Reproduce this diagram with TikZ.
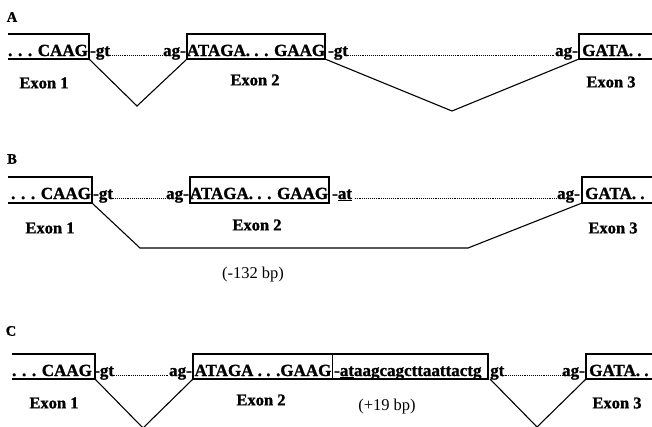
\documentclass[tikz,border=0pt]{standalone}
\usepackage{fontspec}
\setmainfont{Liberation Serif}[BoldFeatures={FakeBold=1.2}]
\begin{document}
\begin{tikzpicture}[x=1pt,y=-1pt,
  seq/.style={font=\fontsize{17}{17}\selectfont\bfseries, inner sep=0pt},
  exlab/.style={font=\fontsize{16.5}{16.5}\selectfont\bfseries, inner sep=0pt},
  plab/.style={font=\fontsize{14.5}{14.5}\selectfont\bfseries, inner sep=0pt},
  bp/.style={font=\fontsize{16.5}{16.5}\selectfont, inner sep=0pt},
  boxline/.style={line width=1.1pt},
  splice/.style={line width=1.1pt},
  dotline/.style={line width=1pt, dash pattern=on 0.9pt off 1pt}]
\useasboundingbox (0,0) rectangle (652,426);
\clip (0,0) rectangle (652,426);

% ---------------- Panel A ----------------
\node[plab] (lA) at (12,17) {A};
\coordinate (a1tl) at (8,34);  \coordinate (a1tr) at (89,34);
\coordinate (a1bl) at (8,59);  \coordinate (a1br) at (89,59);
\coordinate (a2tl) at (187,34); \coordinate (a2tr) at (325,34);
\coordinate (a2bl) at (187,59); \coordinate (a2br) at (325,59);
\coordinate (a3tl) at (579,34); \coordinate (a3tr) at (652,34);
\coordinate (a3bl) at (579,59); \coordinate (a3br) at (652,59);
\draw[boxline] (a1tl) -- (a1tr) -- (a1br) -- (a1bl);
\draw[boxline] (a2tl) rectangle (a2br);
\draw[boxline] (a3tr) -- (a3tl) -- (a3bl) -- (a3br);
\node[seq, anchor=base] (a1s) at (48,56) {. . . CAAG};
\node[seq, anchor=base west] (agt1) at (90,56) {-gt};
\node[seq, anchor=base east] (aag1) at (186,56) {ag-};
\node[seq, anchor=base] (a2s) at (256,56) {ATAGA. . . GAAG};
\node[seq, anchor=base west] (agt2) at (328,56) {-gt};
\node[seq, anchor=base east] (aag2) at (578,56) {ag-};
\node[seq, anchor=base west] (a3s) at (582,56) {GATA. .};
\draw[dotline] ([yshift=0.6pt]agt1.base east) -- ([yshift=0.6pt]aag1.base west);
\draw[dotline] ([yshift=0.6pt]agt2.base east) -- ([yshift=0.6pt]aag2.base west);
\coordinate (av1) at (137,106);
\coordinate (av2) at (452,111);
\draw[splice] (a1br) -- (av1) -- (a2bl);
\draw[splice] (a2br) -- (av2) -- (a3bl);
\node[exlab] (ae1) at (44,83) {Exon 1};
\node[exlab] (ae2) at (255,80) {Exon 2};
\node[exlab] (ae3) at (611,82) {Exon 3};

% ---------------- Panel B ----------------
\node[plab] (lB) at (12,159) {B};
\coordinate (b1tl) at (8,177);  \coordinate (b1tr) at (92,177);
\coordinate (b1bl) at (8,203);  \coordinate (b1br) at (92,203);
\coordinate (b2tl) at (190,177); \coordinate (b2br) at (329,203);
\coordinate (b3tl) at (582,177); \coordinate (b3tr) at (652,177);
\coordinate (b3bl) at (582,203); \coordinate (b3br) at (652,203);
\draw[boxline] (b1tl) -- (b1tr) -- (b1br) -- (b1bl);
\draw[boxline] (b2tl) rectangle (b2br);
\draw[boxline] (b3tr) -- (b3tl) -- (b3bl) -- (b3br);
\node[seq, anchor=base] (b1s) at (51,199) {. . . CAAG};
\node[seq, anchor=base west] (bgt1) at (93,199) {-gt};
\node[seq, anchor=base east] (bag1) at (189,199) {ag-};
\node[seq, anchor=base] (b2s) at (259,199) {ATAGA. . . GAAG};
\node[seq, anchor=base west] (bat) at (332,199) {-\underline{at}};
\node[seq, anchor=base east] (bag2) at (580,199) {ag-};
\node[seq, anchor=base west] (b3s) at (585,199) {GATA. .};
\draw[dotline] ([yshift=0.6pt]bgt1.base east) -- ([yshift=0.6pt]bag1.base west);
\draw[dotline] ([xshift=2.5pt,yshift=0.6pt]bat.base east) -- ([yshift=0.6pt]bag2.base west);
\coordinate (bk1) at (140,248);
\coordinate (bk2) at (468,248);
\draw[splice] (b1br) -- (bk1) -- (bk2) -- (b3bl);
\node[exlab] (be1) at (50,228) {Exon 1};
\node[exlab] (be2) at (257,225) {Exon 2};
\node[exlab] (be3) at (613,228) {Exon 3};
\node[bp] (bbp) at (253,275) {(-132 bp)};

% ---------------- Panel C ----------------
\node[plab] (lC) at (11,331) {C};
\coordinate (c1tl) at (12,354);  \coordinate (c1tr) at (95,354);
\coordinate (c1bl) at (12,379);  \coordinate (c1br) at (95,379);
\coordinate (c2tl) at (193,354); \coordinate (c2br) at (488,379);
\coordinate (c2bl) at (193,379);
\coordinate (cdt) at (332,354); \coordinate (cdb) at (332,379);
\coordinate (c3tl) at (586,354); \coordinate (c3tr) at (652,354);
\coordinate (c3bl) at (586,379); \coordinate (c3br) at (652,379);
\draw[boxline] (c1tl) -- (c1tr) -- (c1br) -- (c1bl);
\draw[boxline] (c2tl) rectangle (c2br);
\draw[line width=0.8pt] (cdt) -- (cdb);
\draw[boxline] (c3tr) -- (c3tl) -- (c3bl) -- (c3br);
\node[seq, anchor=base] (c1s) at (52,376) {. . . CAAG};
\node[seq, anchor=base west] (cgt1) at (94,376) {-gt};
\node[seq, anchor=base east] (cag1) at (192,376) {ag-};
\node[seq, anchor=base] (c2s) at (263,376) {ATAGA . . .GAAG};
\node[seq, anchor=base west] (cins) at (334,376) {-\underline{at}aagcagcttaattactg};
\node[seq, anchor=base west] (cgt2) at (490,376) {gt};
\node[seq, anchor=base east] (cag2) at (585,376) {ag-};
\node[seq, anchor=base west] (c3s) at (589,376) {GATA. .};
\draw[dotline] ([yshift=0.6pt]cgt1.base east) -- ([yshift=0.6pt]cag1.base west);
\draw[dotline] ([yshift=0.6pt]cgt2.base east) -- ([yshift=0.6pt]cag2.base west);
\coordinate (cv1) at (143,428);
\coordinate (cv2) at (537,427);
\coordinate (c2br0) at (490,379);
\draw[splice] (c1br) -- (cv1) -- (c2bl);
\draw[splice] (c2br0) -- (cv2) -- (c3bl);
\node[exlab] (ce1) at (54,403) {Exon 1};
\node[exlab] (ce2) at (261,400) {Exon 2};
\node[exlab] (ce3) at (617,403) {Exon 3};
\node[bp] (cbp) at (387,407) {(+19 bp)};
\end{tikzpicture}
\end{document}
